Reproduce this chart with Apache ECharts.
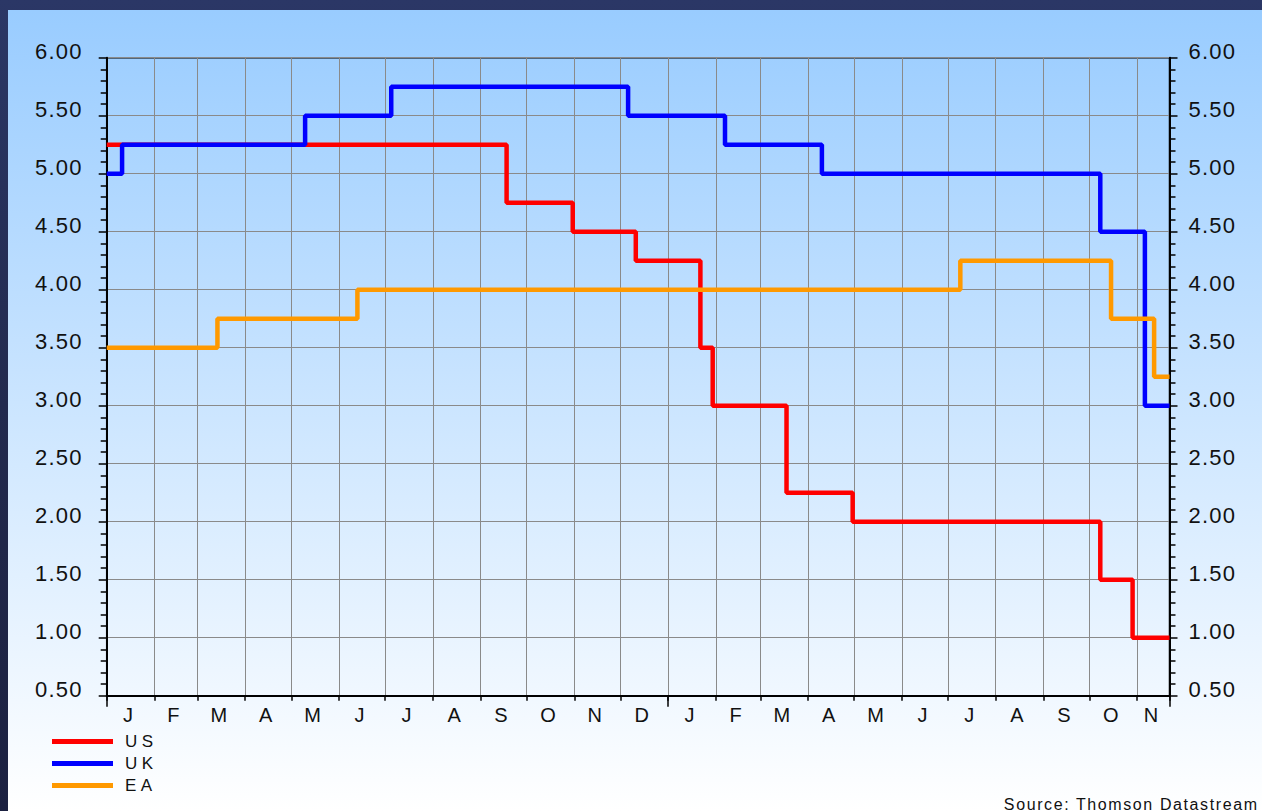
<!DOCTYPE html>
<html>
<head>
<meta charset="utf-8">
<script src="https://cdn.jsdelivr.net/npm/echarts@6/dist/echarts.min.js"></script>
<style>
  html, body { margin: 0; padding: 0; width: 1262px; height: 811px; overflow: hidden;
    background: linear-gradient(to bottom, #2b3766 0%, #222a4e 50%, #1c2140 100%); }
  #chart { position: absolute; left: 8px; top: 10px; width: 1254px; height: 801px;
    background: linear-gradient(to bottom, #99ccff 0%, #ffffff 100%); }
  #chart text[style*="22px"] { letter-spacing: 1.2px; }
  #chart text[style*="17px"] { letter-spacing: 4.5px; }
  #chart text[style*="16px"] { letter-spacing: 1.6px; }
</style>
</head>
<body>
<div id="chart"></div>
<script>
// ---- data ----
const monthLabels = ['J','F','M','A','M','J','J','A','S','O','N','D','J','F','M','A','M','J','J','A','S','O','N'];
const monthStarts = ['2007-01-01','2007-02-01','2007-03-01','2007-04-01','2007-05-01','2007-06-01','2007-07-01','2007-08-01','2007-09-01','2007-10-01','2007-11-01','2007-12-01',
                     '2008-01-01','2008-02-01','2008-03-01','2008-04-01','2008-05-01','2008-06-01','2008-07-01','2008-08-01','2008-09-01','2008-10-01','2008-11-01'];
const axisStart = '2007-01-01';
const axisEnd = '2008-11-22';
const yearTicks = ['2007-01-01','2008-01-01','2008-11-22'];

const usDates = ['2007-01-01','2007-09-18','2007-10-31','2007-12-11','2008-01-22','2008-01-30','2008-03-18','2008-04-30','2008-10-08','2008-10-29','2008-11-22'];
const usRates = [5.25, 4.75, 4.50, 4.25, 3.50, 3.00, 2.25, 2.00, 1.50, 1.00, 1.00];

const ukDates = ['2007-01-01','2007-01-11','2007-05-10','2007-07-05','2007-12-06','2008-02-07','2008-04-10','2008-10-08','2008-11-06','2008-11-22'];
const ukRates = [5.00, 5.25, 5.50, 5.75, 5.50, 5.25, 5.00, 4.50, 3.00, 3.00];

const eaDates = ['2007-01-01','2007-03-14','2007-06-13','2008-07-09','2008-10-15','2008-11-12','2008-11-22'];
const eaRates = [3.50, 3.75, 4.00, 4.25, 3.75, 3.25, 3.25];

const yMin = 0.5, yMax = 6.0, yStep = 0.5;
const sourceText = 'Source: Thomson Datastream';

// ---- build ----
const t = s => Date.parse(s);
const tMin = t(axisStart), tMax = t(axisEnd);
const bounds = monthStarts.map(t).concat([tMax]);
const mids = monthLabels.map((_, i) => (bounds[i] + bounds[i + 1]) / 2);
const FONT = "'Liberation Sans', Arial, Helvetica, sans-serif";

function pairs(dates, vals) { return dates.map((d, i) => [t(d), vals[i]]); }

const chart = echarts.init(document.getElementById('chart'), null, { renderer: 'svg', width: 1254, height: 801 });

const yAxisBase = {
  type: 'value', min: yMin, max: yMax, interval: yStep,
  axisLine: { show: true, lineStyle: { color: '#000', width: 2 } },
  axisTick: { show: true, inside: false, length: 8, lineStyle: { color: '#000', width: 1.5 } },
  minorTick: { show: true, splitNumber: 5, length: 6, lineStyle: { color: '#000', width: 1.5 } },
  minorSplitLine: { show: false },
  axisLabel: { formatter: v => v.toFixed(2), fontSize: 22, fontFamily: FONT, color: '#111',
               verticalAlign: 'bottom', lineHeight: 12 }
};

chart.setOption({
  animation: false,
  grid: { left: 98.7, right: 92.5, top: 47.7, bottom: 115.3, show: true,
          borderColor: '#000', borderWidth: 1.5, backgroundColor: 'transparent' },
  legend: {
    orient: 'vertical', left: 44, top: 723, padding: 0, itemGap: 5,
    itemWidth: 61, itemHeight: 5, icon: 'rect',
    data: ['US', 'UK', 'EA'],
    textStyle: { fontSize: 17, fontFamily: FONT, color: '#111', padding: [0, 0, 0, 7] }
  },
  xAxis: [
    {
      type: 'value', min: tMin, max: tMax, position: 'bottom',
      axisLine: { show: true, onZero: false, lineStyle: { color: '#000', width: 2 } },
      axisTick: { show: true, length: 5, customValues: bounds, lineStyle: { color: '#000', width: 1.5 } },
      splitLine: { show: true, lineStyle: { color: '#8a8a8a', width: 1 } },
      axisLabel: { customValues: mids, margin: 9, fontSize: 20, fontFamily: FONT, color: '#111',
                   padding: [0, 5, 0, 0], hideOverlap: false, showMinLabel: true, showMaxLabel: true,
                   formatter: v => { const i = mids.findIndex(m => Math.abs(m - v) < 1000); return i >= 0 ? monthLabels[i] : ''; } }
    },
    {
      type: 'value', min: tMin, max: tMax, position: 'bottom',
      axisLine: { show: false, onZero: false },
      axisTick: { show: true, length: 11, customValues: yearTicks.map(t), lineStyle: { color: '#000', width: 1.5 } },
      splitLine: { show: false },
      axisLabel: { show: false }
    }
  ],
  yAxis: [
    Object.assign({}, yAxisBase, { position: 'left',
      splitLine: { show: true, lineStyle: { color: '#8a8a8a', width: 1 } },
      axisLabel: Object.assign({}, yAxisBase.axisLabel, { margin: 24 }) }),
    Object.assign({}, yAxisBase, { position: 'right',
      splitLine: { show: false },
      axisLabel: Object.assign({}, yAxisBase.axisLabel, { margin: 19 }) })
  ],
  graphic: [{
    type: 'text', x: 1250.6, y: 794,
    style: { text: sourceText, fill: '#111', font: '16px ' + FONT, textAlign: 'right', textVerticalAlign: 'middle' }
  }],
  series: [
    { name: 'US', type: 'line', step: 'end', showSymbol: false, data: pairs(usDates, usRates),
      lineStyle: { color: '#ff0000', width: 4.5 }, itemStyle: { color: '#ff0000' }, z: 2 },
    { name: 'UK', type: 'line', step: 'end', showSymbol: false, data: pairs(ukDates, ukRates),
      lineStyle: { color: '#0000ff', width: 4.5 }, itemStyle: { color: '#0000ff' }, z: 3 },
    { name: 'EA', type: 'line', step: 'end', showSymbol: false, data: pairs(eaDates, eaRates),
      lineStyle: { color: '#ff9900', width: 4.5 }, itemStyle: { color: '#ff9900' }, z: 4 }
  ]
});
</script>
</body>
</html>
